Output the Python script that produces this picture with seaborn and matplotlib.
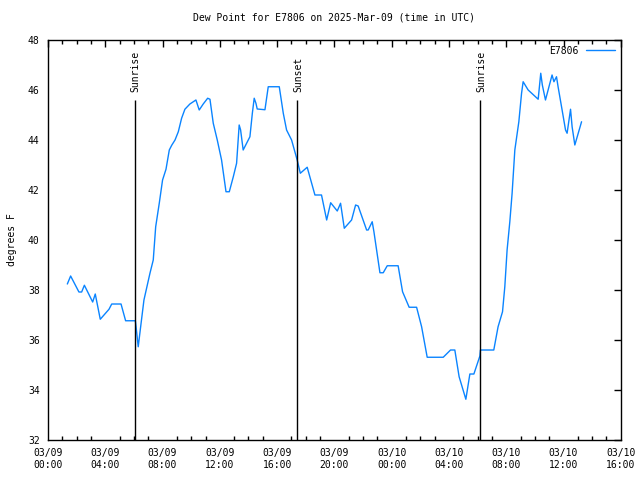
import seaborn as sns
import matplotlib.pyplot as plt
import matplotlib.dates as mdates
from matplotlib.ticker import MultipleLocator
import pandas as pd

# hours after 2025-03-09 00:00 UTC, dew point in F
hours = [1.35, 1.58, 2.16, 2.35, 2.54, 3.12, 3.30, 3.65, 4.26, 4.45, 5.10, 5.42,
         6.10, 6.15, 6.30, 6.47, 6.70, 7.12, 7.35, 7.52, 7.77, 8.00, 8.24, 8.47,
         8.64, 8.87, 9.10, 9.33, 9.56, 9.91, 10.33, 10.56, 10.84, 11.15, 11.31,
         11.54, 11.82, 12.12, 12.43, 12.66, 12.94, 13.17, 13.35, 13.45, 13.63,
         14.10, 14.27, 14.40, 14.52, 14.61, 15.15, 15.38, 16.15, 16.43, 16.66,
         17.01, 17.40, 17.62, 18.10, 18.64, 19.10, 19.46, 19.74, 20.20, 20.43,
         20.69, 21.20, 21.48, 21.66, 22.25, 22.36, 22.64, 22.76, 23.18, 23.41,
         23.69, 24.45, 24.76, 25.22, 25.74, 26.09, 26.48, 27.60, 28.11, 28.41,
         28.71, 29.18, 29.46, 29.74, 30.16, 30.20, 31.13, 31.43, 31.74, 31.90,
         32.06, 32.25, 32.41, 32.60, 32.88, 33.07, 33.18, 33.53, 34.23, 34.41,
         34.52, 34.74, 35.20, 35.33, 35.51, 35.62, 35.91, 36.14, 36.25, 36.49,
         36.60, 36.79, 37.26]
dewpoint = [38.24, 38.56, 37.92, 37.92, 38.19, 37.52, 37.84, 36.83, 37.23, 37.44, 37.44, 36.77,
            36.77, 36.53, 35.73, 36.53, 37.60, 38.67, 39.20, 40.53, 41.47, 42.40, 42.83, 43.60,
            43.79, 44.00, 44.33, 44.87, 45.23, 45.44, 45.60, 45.20, 45.44, 45.67, 45.63,
            44.67, 44.00, 43.20, 41.93, 41.93, 42.53, 43.07, 44.60, 44.40, 43.60,
            44.13, 45.07, 45.67, 45.47, 45.24, 45.21, 46.13, 46.13, 45.07, 44.40,
            44.00, 43.20, 42.67, 42.91, 41.80, 41.80, 40.80, 41.49, 41.16, 41.47,
            40.47, 40.80, 41.40, 41.36, 40.40, 40.40, 40.73, 40.33, 38.69, 38.69,
            38.97, 38.97, 37.93, 37.31, 37.31, 36.53, 35.31, 35.31, 35.60, 35.60,
            34.53, 33.63, 34.64, 34.64, 35.36, 35.60, 35.60, 36.53, 37.13, 38.13,
            39.60, 40.73, 41.87, 43.60, 44.73, 45.87, 46.33, 46.00, 45.63, 46.67,
            46.20, 45.60, 46.60, 46.33, 46.53, 46.13, 45.17, 44.40, 44.27, 45.23,
            44.53, 43.80, 44.73]

sun_events = ["2025-03-09 06:04", "2025-03-09 17:23", "2025-03-10 06:10"]
sun_labels = ["Sunrise", "Sunset", "Sunrise"]

start = pd.Timestamp("2025-03-09 00:00")
df = pd.DataFrame({"time": start + pd.to_timedelta(hours, unit="h"),
                   "E7806": dewpoint})

sns.set_style("white")
plt.rcParams['font.family'] = ['DejaVu Sans Mono']
plt.rcParams['font.size'] = 7
plt.rcParams['text.color'] = 'black'
plt.rcParams['axes.labelcolor'] = 'black'
plt.rcParams['xtick.color'] = 'black'
plt.rcParams['ytick.color'] = 'black'

fig, ax = plt.subplots(figsize=(6.4, 4.8), dpi=100)
fig.subplots_adjust(left=0.075, right=0.970, top=0.9167, bottom=0.0833)

sns.lineplot(data=df, x="time", y="E7806", color="#0a84ff", linewidth=1,
             label="E7806", ax=ax)

for t, lab in zip(sun_events, sun_labels):
    ts = pd.Timestamp(t)
    ax.vlines(ts, 32, 45.6, color="black", linewidth=1)
    ax.text(ts + pd.Timedelta(minutes=4), 45.9, lab, rotation=90,
            ha="center", va="bottom", fontsize=7)

ax.set_xlim(start, start + pd.Timedelta(hours=40))
ax.set_ylim(32, 48)
ax.set_yticks(range(32, 49, 2))
# date axis is in days: major every 4 h, minor every hour
ax.xaxis.set_major_locator(MultipleLocator(4 / 24))
ax.xaxis.set_minor_locator(MultipleLocator(1 / 24))
ax.xaxis.set_major_formatter(mdates.DateFormatter("%m/%d\n%H:%M"))

ax.tick_params(axis="both", which="major", direction="in", length=5, width=1,
               top=True, right=True, labelsize=7, pad=6)
ax.tick_params(axis="x", which="minor", direction="in", length=3, width=1,
               top=True, bottom=True)
for s in ax.spines.values():
    s.set_color("black")
    s.set_linewidth(1)

ax.set_title("Dew Point for E7806 on 2025-Mar-09 (time in UTC)", fontsize=7, pad=14)
ax.set_xlabel("")
ax.set_ylabel("degrees F", fontsize=7, labelpad=8)
ax.legend(loc="upper right", frameon=False, markerfirst=False, handlelength=3.0,
          fontsize=7, borderaxespad=0.2)

plt.savefig("out.png", dpi=100)
